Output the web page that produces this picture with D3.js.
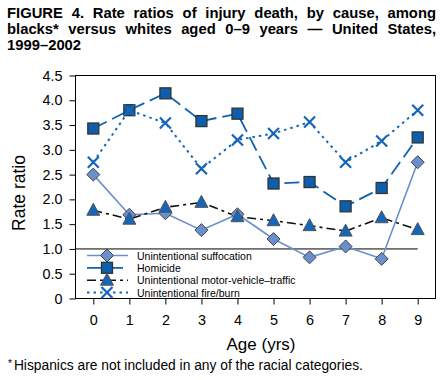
<!DOCTYPE html>
<html><head><meta charset="utf-8">
<script src="https://cdn.jsdelivr.net/npm/d3@7"></script>
<style>body{margin:0;background:#fff}svg{display:block}text{font-family:"Liberation Sans",Arial,Helvetica,sans-serif}</style>
</head><body><svg id="c" width="446" height="380"></svg>
<script>
const ages = [0,1,2,3,4,5,6,7,8,9];
const suffocation = [2.5,1.69,1.72,1.38,1.70,1.2,0.83,1.05,0.8,2.75];
const homicide = [3.43,3.8,4.14,3.58,3.73,2.32,2.35,1.86,2.23,3.25];
const motorVehicle = [1.78,1.6,1.84,1.94,1.65,1.57,1.47,1.36,1.63,1.39];
const fireBurn = [2.75,3.8,3.54,2.62,3.2,3.33,3.56,2.75,3.18,3.8];
const yTicks = [0,0.5,1.0,1.5,2.0,2.5,3.0,3.5,4.0,4.5];
const yTickLabels = ["0","0.5","1.0","1.5","2.0","2.5","3.0","3.5","4.0","4.5"];
const seriesNames = ["Unintentional suffocation","Homicide","Unintentional motor-vehicle–traffic","Unintentional fire/burn"];
const titleLines = ["FIGURE 4. Rate ratios of injury death, by cause, among","blacks* versus whites aged 0–9 years — United States,","1999–2002"];
const footnote = "Hispanics are not included in any of the racial categories.";

const svg = d3.select("#c");
const L=75.5, R=435.5, T=75.5, B=298.5;
const x = d3.scalePoint().domain(ages).range([93.3,417.7]);
const y = d3.scaleLinear().domain([0,4.5]).range([B,T]);

// title
titleLines.forEach((t,i)=>{
  const el = svg.append("text").attr("x",7).attr("y",18+i*16).attr("font-size",14.8).attr("font-weight","bold").attr("fill","#000").text(t);
  if(i<2){
    const len = el.node().getComputedTextLength();
    const spaces = t.split(" ").length-1;
    el.attr("word-spacing",(436-7-len)/spaces);
  }
});

// frame
svg.append("rect").attr("x",L).attr("y",T).attr("width",R-L).attr("height",B-T).attr("fill","none").attr("stroke","#000").attr("stroke-width",1);

// axes
const yAxis = d3.axisLeft(y).tickValues(yTicks).tickFormat((d,i)=>yTickLabels[i]).tickSize(6).tickPadding(7);
const gy = svg.append("g").attr("transform",`translate(${L},0)`).call(yAxis);
gy.select(".domain").remove();
gy.selectAll("text").attr("font-size",14.4).attr("font-family","Liberation Sans, Arial").attr("fill","#000");
gy.selectAll("line").attr("stroke","#000");

const xAxis = d3.axisBottom(x).tickSize(6).tickPadding(10);
const gx = svg.append("g").attr("transform",`translate(0,${B})`).call(xAxis);
gx.select(".domain").remove();
gx.selectAll("text").attr("font-size",14.4).attr("font-family","Liberation Sans, Arial").attr("fill","#000");
gx.selectAll("line").attr("stroke","#000");

// reference line at 1.0
svg.append("line").attr("x1",L).attr("x2",x(9)).attr("y1",y(1)).attr("y2",y(1)).attr("stroke","#000").attr("stroke-width",1);

// axis titles
svg.append("text").attr("transform",`translate(25,193) rotate(-90)`).attr("text-anchor","middle").attr("font-size",17.5).text("Rate ratio");
svg.append("text").attr("x",261).attr("y",350).attr("text-anchor","middle").attr("font-size",17).text("Age (yrs)");
const fn = svg.append("text").attr("x",8).attr("y",370).attr("font-size",13.8);
fn.append("tspan").attr("font-size",10).attr("dy",-3).text("*");
fn.append("tspan").attr("dy",3).text(footnote).attr("dx",2);

const series = [
  {name:seriesNames[0], vals:suffocation, color:"#6a8fcc", dash:null, width:1.6, marker:"diamond", fill:"#6a8fcc"},
  {name:seriesNames[1], vals:homicide, color:"#1062b0", dash:"15,6", width:1.8, marker:"square", fill:"#0d5fae"},
  {name:seriesNames[2], vals:motorVehicle, color:"#111", dash:"9,4,3,4", width:1.6, marker:"triangle", fill:"#1565b8"},
  {name:seriesNames[3], vals:fireBurn, color:"#1565b8", dash:"2.5,4", width:2, marker:"x", fill:"#1565b8"}
];
const line = d3.line().x((d,i)=>x(ages[i])).y(d=>y(d));

function drawMarker(g, type, cx, cy, s){
  if(type==="diamond"){
    g.append("path").attr("d",`M${cx},${cy-6.5}L${cx+6.5},${cy}L${cx},${cy+6.5}L${cx-6.5},${cy}Z`).attr("fill",s.fill).attr("stroke","#444").attr("stroke-width",1);
  } else if(type==="square"){
    g.append("rect").attr("x",cx-5.5).attr("y",cy-5.5).attr("width",11).attr("height",11).attr("fill",s.fill).attr("stroke","#333").attr("stroke-width",1.3);
  } else if(type==="triangle"){
    g.append("path").attr("d",`M${cx},${cy-7}L${cx+6.5},${cy+5}L${cx-6.5},${cy+5}Z`).attr("fill",s.fill).attr("stroke","#555").attr("stroke-width",1);
  } else {
    g.append("path").attr("d",`M${cx-5.5},${cy-5.5}L${cx+5.5},${cy+5.5}M${cx-5.5},${cy+5.5}L${cx+5.5},${cy-5.5}`).attr("stroke",s.fill).attr("stroke-width",2.2).attr("fill","none");
  }
}

series.forEach(s=>{
  svg.append("path").datum(s.vals).attr("d",line).attr("fill","none").attr("stroke",s.color).attr("stroke-width",s.width).attr("stroke-dasharray",s.dash);
});
series.forEach(s=>{
  const g = svg.append("g");
  s.vals.forEach((v,i)=>drawMarker(g,s.marker,x(ages[i]),y(v),s));
});

// legend
const legY = [255.5,267.8,280.2,292.5];
series.forEach((s,i)=>{
  const g = svg.append("g");
  g.append("line").attr("x1",87).attr("x2",128).attr("y1",legY[i]).attr("y2",legY[i]).attr("stroke",s.color).attr("stroke-width",s.width).attr("stroke-dasharray",s.dash);
  drawMarker(g,s.marker,107,legY[i],s);
  g.append("text").attr("x",137).attr("y",legY[i]+4).attr("font-size",10.5).text(s.name);
});
</script></body></html>
